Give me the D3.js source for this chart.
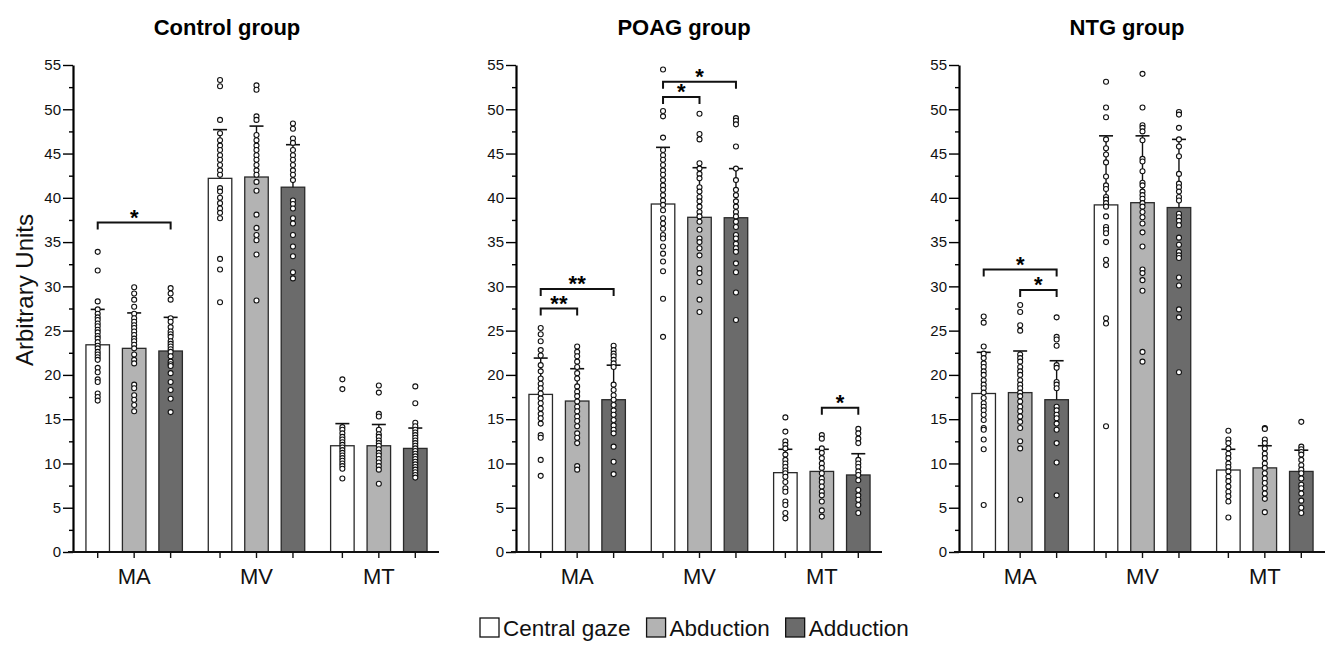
<!DOCTYPE html>
<html>
<head>
<meta charset="utf-8">
<script src="https://cdn.jsdelivr.net/npm/d3@7"></script>
<style>
  body { margin: 0; background: #fff; }
  svg { font-family: 'Liberation Sans', Arial, sans-serif; }
</style>
</head>
<body>
<script>
// categories / conditions / panels
const CATEGORIES = ['MA', 'MV', 'MT'];
const CONDITIONS = ['Central gaze', 'Abduction', 'Adduction'];
const GROUPS = ['Control group', 'POAG group', 'NTG group'];
const Y_TICKS = [0, 5, 10, 15, 20, 25, 30, 35, 40, 45, 50, 55];
const Y_MINOR = [2.5, 7.5, 12.5, 17.5, 22.5, 27.5, 32.5, 37.5, 42.5, 47.5, 52.5];

// means [category][condition]
const CONTROL_MEANS = [[23.4, 23.0, 22.7], [42.2, 42.35, 41.2], [12.0, 12.0, 11.7]];
const POAG_MEANS = [[17.8, 17.05, 17.2], [39.3, 37.8, 37.75], [8.96, 9.1, 8.7]];
const NTG_MEANS = [[17.9, 18.0, 17.2], [39.2, 39.45, 38.9], [9.26, 9.5, 9.1]];

// SD (upper error bar)
const CONTROL_SD = [[4.0, 4.0, 3.8], [5.5, 5.75, 4.8], [2.5, 2.4, 2.3]];
const POAG_SD = [[4.1, 3.65, 3.9], [6.4, 5.6, 5.55], [2.64, 2.5, 2.4]];
const NTG_SD = [[4.65, 4.7, 4.4], [7.8, 7.55, 7.7], [2.34, 2.5, 2.4]];

// individual values [category][condition][]
const CONTROL_POINTS = [
  [
    [33.9, 31.8, 28.3, 27.4, 26.9, 26.5, 26.2, 25.8, 25.5, 25.1, 24.8, 24.4, 24.1, 23.7, 23.3, 23.0, 22.6, 22.3, 22.0, 21.7, 20.8, 20.3, 19.5, 19.2, 17.9, 17.5, 17.1],
    [29.9, 29.2, 28.5, 27.7, 26.9, 26.4, 26.0, 25.6, 25.3, 24.9, 24.5, 24.1, 23.8, 23.4, 23.0, 22.3, 21.7, 21.3, 18.9, 18.5, 17.7, 17.2, 16.6, 15.9],
    [29.8, 29.2, 28.5, 26.4, 26.0, 25.4, 24.9, 24.6, 24.3, 23.8, 23.5, 23.2, 22.9, 22.6, 22.1, 21.5, 21.2, 21.0, 20.2, 19.2, 18.3, 17.3, 15.8]
  ],
  [
    [53.3, 52.6, 48.8, 47.3, 46.5, 45.9, 45.4, 44.8, 44.3, 43.7, 43.1, 42.6, 41.1, 40.7, 40.0, 39.4, 38.8, 38.3, 37.7, 33.1, 31.9, 28.2],
    [52.7, 52.2, 49.2, 48.8, 47.1, 46.5, 45.9, 45.4, 44.8, 44.3, 43.7, 43.1, 42.6, 41.8, 40.8, 38.1, 36.6, 35.8, 35.2, 33.6, 28.4],
    [48.4, 47.8, 46.7, 46.2, 45.4, 44.8, 44.3, 43.7, 43.1, 42.6, 42.0, 39.7, 39.3, 38.8, 37.7, 37.1, 35.8, 34.5, 33.4, 31.6, 30.9]
  ],
  [
    [19.5, 18.4, 14.1, 13.8, 13.4, 13.0, 12.7, 12.4, 12.1, 11.8, 11.5, 11.2, 10.9, 10.6, 10.3, 10.0, 9.7, 9.4, 8.3],
    [18.8, 18.0, 15.6, 15.3, 13.8, 13.3, 13.0, 12.6, 12.3, 12.0, 11.6, 11.2, 10.9, 10.5, 10.1, 9.7, 9.3, 7.7],
    [18.7, 16.8, 14.6, 14.2, 13.8, 13.5, 13.2, 12.9, 12.6, 12.3, 12.0, 11.7, 11.4, 11.1, 10.8, 10.5, 10.2, 9.9, 9.6, 9.3, 9.0, 8.7, 8.4]
  ]
];

const POAG_POINTS = [
  [
    [25.3, 24.6, 23.8, 22.8, 22.2, 21.1, 20.4, 19.6, 19.0, 18.5, 17.9, 17.35, 16.8, 16.2, 15.6, 15.1, 14.5, 13.2, 12.9, 10.4, 8.6],
    [23.2, 22.6, 22.1, 21.5, 20.9, 20.2, 19.6, 18.7, 18.1, 17.6, 17.0, 16.4, 15.9, 15.3, 14.8, 14.2, 13.4, 12.9, 12.3, 9.7, 9.3],
    [23.3, 22.8, 22.4, 22.1, 21.7, 21.3, 20.9, 18.9, 18.3, 17.7, 17.2, 16.6, 16.0, 15.5, 14.9, 14.3, 13.8, 13.4, 11.9, 10.2, 8.8]
  ],
  [
    [54.5, 49.8, 49.2, 46.8, 45.4, 44.8, 44.3, 43.7, 43.1, 42.6, 42.0, 41.4, 40.9, 40.3, 39.7, 39.2, 38.6, 37.7, 37.1, 36.5, 35.8, 35.4, 34.5, 33.7, 32.8, 31.7, 28.6, 24.3],
    [49.5, 47.2, 46.6, 43.9, 43.3, 42.7, 42.2, 41.2, 40.7, 40.1, 39.6, 39.0, 38.4, 37.9, 37.3, 36.4, 35.4, 35.0, 34.3, 33.5, 32.0, 31.5, 30.5, 28.5, 27.1],
    [49.0, 48.7, 48.3, 45.8, 43.3, 42.0, 40.9, 40.3, 39.6, 39.0, 38.4, 37.9, 37.3, 36.7, 35.8, 35.4, 34.8, 34.3, 33.9, 32.6, 31.6, 29.3, 26.2]
  ],
  [
    [15.2, 13.6, 12.5, 12.1, 11.7, 11.0, 10.4, 10.0, 9.6, 9.2, 8.9, 8.5, 7.9, 7.2, 6.8, 5.7, 5.3, 4.4, 3.8],
    [13.2, 12.8, 11.7, 11.2, 10.6, 10.0, 9.5, 8.9, 8.3, 7.9, 7.4, 6.8, 6.4, 5.7, 4.7, 4.0],
    [13.9, 13.4, 12.8, 12.3, 10.4, 10.0, 9.6, 9.1, 8.7, 8.1, 7.0, 6.4, 5.9, 5.3, 4.4]
  ]
];

const NTG_POINTS = [
  [
    [26.6, 25.9, 23.2, 22.4, 21.9, 21.3, 20.9, 20.4, 20.0, 19.4, 18.9, 18.5, 18.0, 17.4, 16.8, 16.4, 16.0, 15.5, 14.9, 14.0, 13.8, 12.7, 11.6, 5.3],
    [27.9, 27.1, 25.6, 25.0, 22.3, 21.9, 21.5, 20.9, 20.4, 20.0, 19.4, 18.9, 18.5, 18.0, 17.6, 17.0, 16.4, 15.9, 15.3, 14.7, 14.0, 12.5, 11.7, 5.9],
    [26.5, 24.3, 24.0, 23.3, 21.1, 20.8, 19.2, 18.9, 18.5, 16.4, 16.0, 15.5, 15.1, 14.5, 13.8, 12.3, 10.1, 6.4]
  ],
  [
    [53.1, 50.2, 49.1, 46.6, 45.6, 44.9, 44.0, 42.4, 41.4, 41.0, 40.1, 39.8, 39.4, 39.0, 37.9, 36.7, 36.4, 36.0, 35.0, 33.0, 32.4, 26.4, 25.8, 14.2],
    [54.0, 50.2, 48.2, 47.9, 47.5, 46.5, 44.4, 44.1, 43.0, 41.7, 41.4, 40.7, 40.3, 39.9, 39.4, 39.0, 38.4, 37.8, 37.1, 36.1, 34.5, 31.9, 31.5, 30.7, 29.5, 22.6, 21.5],
    [49.7, 49.4, 47.9, 46.6, 45.8, 44.7, 42.7, 41.6, 41.2, 40.7, 40.1, 39.7, 38.2, 37.8, 37.4, 36.9, 35.5, 34.7, 33.9, 33.5, 33.2, 31.0, 30.1, 27.4, 26.5, 20.3]
  ],
  [
    [13.7, 12.7, 12.3, 11.7, 11.1, 10.6, 10.0, 9.6, 9.1, 8.5, 8.0, 7.4, 6.8, 6.3, 5.7, 3.9],
    [14.0, 13.9, 12.7, 12.3, 11.7, 11.1, 10.6, 10.0, 9.5, 8.9, 8.3, 7.8, 7.2, 6.6, 6.0, 4.5],
    [14.7, 11.9, 11.6, 11.3, 11.0, 10.4, 9.8, 9.3, 8.9, 8.3, 7.6, 7.2, 6.6, 5.8, 5.0, 4.4]
  ]
];

// significance brackets: category, condition from/to, bracket level, label
const CONTROL_SIG = [
  {cat: 'MA', from: 0, to: 2, level: 37.2, label: '*'}
];
const POAG_SIG = [
  {cat: 'MA', from: 0, to: 1, level: 27.5, label: '**'},
  {cat: 'MA', from: 0, to: 2, level: 29.7, label: '**'},
  {cat: 'MV', from: 0, to: 1, level: 51.4, label: '*'},
  {cat: 'MV', from: 0, to: 2, level: 53.1, label: '*'},
  {cat: 'MT', from: 1, to: 2, level: 16.3, label: '*'}
];
const NTG_SIG = [
  {cat: 'MA', from: 0, to: 2, level: 31.9, label: '*'},
  {cat: 'MA', from: 1, to: 2, level: 29.6, label: '*'}
];

const PANELS = [
  {title: GROUPS[0], means: CONTROL_MEANS, sd: CONTROL_SD, points: CONTROL_POINTS, sig: CONTROL_SIG},
  {title: GROUPS[1], means: POAG_MEANS, sd: POAG_SD, points: POAG_POINTS, sig: POAG_SIG},
  {title: GROUPS[2], means: NTG_MEANS, sd: NTG_SD, points: NTG_POINTS, sig: NTG_SIG}
];

const WIDTH = 1326;
const HEIGHT = 647;
const PANEL_X = [73, 516, 959];
const TITLE_X = [227, 684, 1127];
const TOP = 65;
const PLOT_W = 366;
const PLOT_H = 487;
const FILLS = ['#ffffff', '#b3b3b3', '#6b6b6b'];
const FONT = "'Liberation Sans', Arial, sans-serif";

function translate(x, y) {
  return `translate(${x}, ${y})`;
}

const svg = d3.select('body').append('svg')
  .attr('width', WIDTH)
  .attr('height', HEIGHT);

const y = d3.scaleLinear().domain([0, 55]).range([PLOT_H, 0]);

PANELS.forEach((panel, i) => {
  const g = svg.append('g').attr('transform', translate(PANEL_X[i], TOP));

  const x = d3.scaleBand().domain(CATEGORIES).range([0, PLOT_W + 1]);
  const xc = d3.scaleBand().domain(d3.range(CONDITIONS.length))
    .range([0, x.bandwidth()])
    .paddingInner(0.355)
    .paddingOuter(0.355);
  const cx = (cat, k) => x(cat) + xc(k) + xc.bandwidth() / 2;

  // title
  svg.append('text')
    .attr('x', TITLE_X[i])
    .attr('y', 35)
    .attr('text-anchor', 'middle')
    .attr('font-size', '22px')
    .attr('font-weight', 'bold')
    .text(panel.title);

  // bars
  const rows = [];
  CATEGORIES.forEach((cat, c) => {
    CONDITIONS.forEach((cond, k) => {
      rows.push({cat, k, mean: panel.means[c][k], sd: panel.sd[c][k], pts: panel.points[c][k]});
    });
  });

  g.selectAll('.bar').data(rows).enter().append('rect')
    .attr('class', 'bar')
    .attr('x', d => x(d.cat) + xc(d.k))
    .attr('y', d => y(d.mean))
    .attr('width', xc.bandwidth())
    .attr('height', d => y(0) - y(d.mean))
    .attr('fill', d => FILLS[d.k])
    .attr('stroke', '#2a2a2a')
    .attr('stroke-width', 1.3);

  // error bars (upper SD)
  const err = g.selectAll('.err').data(rows).enter().append('g').attr('class', 'err');
  err.append('line')
    .attr('x1', d => cx(d.cat, d.k)).attr('x2', d => cx(d.cat, d.k))
    .attr('y1', d => y(d.mean)).attr('y2', d => y(d.mean + d.sd))
    .attr('stroke', '#111').attr('stroke-width', 1.4);
  err.append('line')
    .attr('x1', d => cx(d.cat, d.k) - 7).attr('x2', d => cx(d.cat, d.k) + 7)
    .attr('y1', d => y(d.mean + d.sd)).attr('y2', d => y(d.mean + d.sd))
    .attr('stroke', '#111').attr('stroke-width', 1.6);

  // individual dots
  rows.forEach(d => {
    g.selectAll(null).data(d.pts).enter().append('circle')
      .attr('cx', cx(d.cat, d.k))
      .attr('cy', v => y(v))
      .attr('r', 2.5)
      .attr('fill', '#fff')
      .attr('stroke', '#111')
      .attr('stroke-width', 1.1);
  });

  // y axis
  const yAxis = g.append('g')
    .call(d3.axisLeft(y).tickValues(Y_TICKS).tickSize(10).tickSizeOuter(0).tickPadding(2));
  yAxis.select('.domain').attr('stroke-width', 2.2);
  yAxis.selectAll('.tick line').attr('stroke-width', 1.4);
  yAxis.selectAll('.tick text')
    .attr('font-size', '15px')
    .attr('font-family', FONT)
    .attr('fill', '#111');

  const yMinor = g.append('g')
    .call(d3.axisLeft(y).tickValues(Y_MINOR).tickSize(4).tickFormat(''));
  yMinor.select('.domain').remove();
  yMinor.selectAll('.tick line').attr('stroke-width', 1.4);

  // x axis
  const xAxis = g.append('g')
    .attr('transform', translate(0, PLOT_H))
    .call(d3.axisBottom(x).tickSize(0).tickSizeOuter(0));
  xAxis.select('.domain').remove();
  xAxis.selectAll('.tick text')
    .attr('y', 32)
    .attr('dy', null)
    .attr('font-size', '22px')
    .attr('font-family', FONT)
    .attr('fill', '#111');

  g.append('line')
    .attr('x1', -5).attr('x2', PLOT_W)
    .attr('y1', PLOT_H).attr('y2', PLOT_H)
    .attr('stroke', '#111').attr('stroke-width', 2.2);

  g.selectAll('.xtick').data(rows).enter().append('line')
    .attr('class', 'xtick')
    .attr('x1', d => cx(d.cat, d.k)).attr('x2', d => cx(d.cat, d.k))
    .attr('y1', PLOT_H).attr('y2', PLOT_H + 6)
    .attr('stroke', '#111').attr('stroke-width', 1.4);

  // significance brackets
  const sig = g.selectAll('.sig').data(panel.sig).enter().append('g').attr('class', 'sig');
  sig.append('path')
    .attr('d', d => {
      const x1 = cx(d.cat, d.from);
      const x2 = cx(d.cat, d.to);
      const yy = y(d.level);
      return `M${x1},${yy + 7}V${yy}H${x2}V${yy + 7}`;
    })
    .attr('fill', 'none')
    .attr('stroke', '#111')
    .attr('stroke-width', 2);
  sig.append('text')
    .attr('x', d => (cx(d.cat, d.from) + cx(d.cat, d.to)) / 2)
    .attr('y', d => y(d.level) + 2)
    .attr('text-anchor', 'middle')
    .attr('font-size', '22px')
    .attr('font-weight', 'bold')
    .text(d => d.label);
});

// y axis title
svg.append('text')
  .attr('transform', `${translate(33, 290)} rotate(-90)`)
  .attr('text-anchor', 'middle')
  .attr('font-size', '24px')
  .attr('fill', '#111')
  .text('Arbitrary Units');

// legend
const legend = svg.append('g').attr('transform', translate(480, 618));
let lx = 0;
CONDITIONS.forEach((cond, k) => {
  const item = legend.append('g').attr('transform', translate(lx, 0));
  item.append('rect')
    .attr('width', 19).attr('height', 19)
    .attr('fill', FILLS[k])
    .attr('stroke', '#111')
    .attr('stroke-width', 1.3);
  const t = item.append('text')
    .attr('x', 23)
    .attr('y', 18)
    .attr('font-size', '22.5px')
    .attr('fill', '#111')
    .text(cond);
  lx += 23 + t.node().getComputedTextLength() + 16;
});
</script>
</body>
</html>
